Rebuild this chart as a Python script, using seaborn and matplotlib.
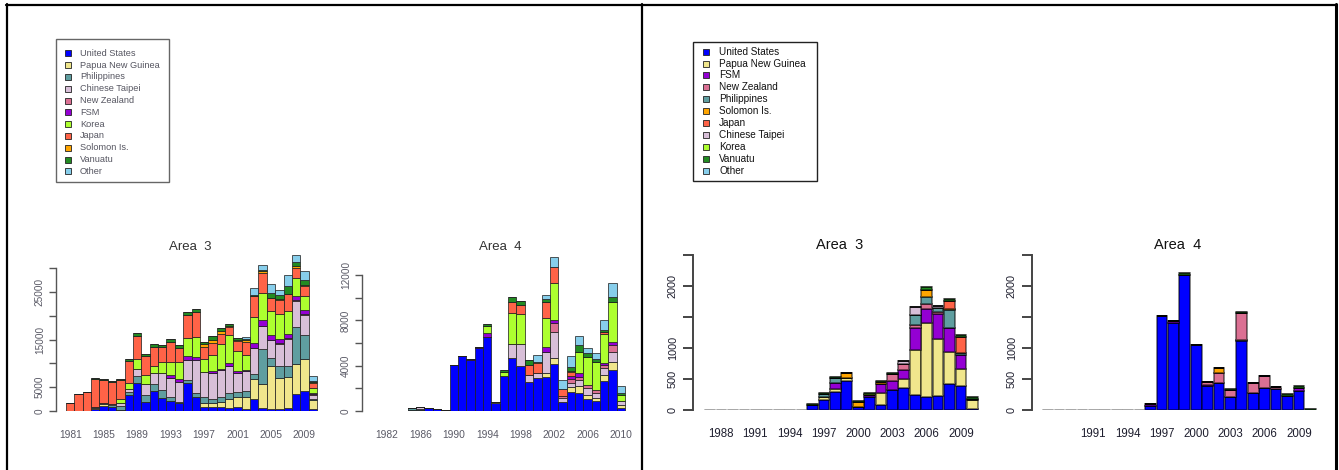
import numpy as np
import pandas as pd
import matplotlib
matplotlib.use("Agg")
import matplotlib.pyplot as plt
import seaborn as sns
from matplotlib.patches import Rectangle
from matplotlib.lines import Line2D

# ---------------- data ----------------
years_left = list(range(1981, 2011))
years_right = list(range(1987, 2011))

countries_left = ["United States", "Papua New Guinea", "Philippines", "Chinese Taipei",
                  "New Zealand", "FSM", "Korea", "Japan", "Solomon Is.", "Vanuatu", "Other"]
countries_right = ["United States", "Papua New Guinea", "FSM", "New Zealand", "Philippines",
                   "Solomon Is.", "Japan", "Chinese Taipei", "Korea", "Vanuatu", "Other"]

colors = {"United States": "#0000FF", "Papua New Guinea": "#F0E68C", "Philippines": "#5F9EA0",
          "Chinese Taipei": "#D8BFD8", "New Zealand": "#DB7093", "FSM": "#9400D3",
          "Korea": "#ADFF2F", "Japan": "#FF6347", "Solomon Is.": "#FFA500",
          "Vanuatu": "#228B22", "Other": "#87CEEB"}

# Left figure, Area 3 (1981-2010)
l3_us  = [0, 0, 0, 500, 1100, 900, 300, 3350, 5900, 1950, 4200, 2800, 2100, 1600, 5800, 3000, 900, 900, 900, 600, 800, 500, 2450, 550, 500, 500, 700, 3500, 4250, 400]
l3_png = [0, 0, 0, 200, 300, 0, 0, 0, 0, 0, 0, 0, 0, 0, 0, 0, 850, 700, 1000, 1900, 2100, 2500, 4200, 5100, 8900, 6350, 6500, 6300, 6750, 1900]
l3_phl = [0, 0, 0, 200, 300, 300, 700, 700, 1400, 1400, 1450, 1600, 750, 300, 700, 700, 1100, 1000, 1000, 1250, 1000, 1200, 1050, 7450, 1800, 2600, 2200, 7750, 4900, 300]
l3_twn = [0, 0, 0, 0, 0, 300, 700, 550, 1600, 2300, 2250, 3500, 4000, 4200, 4300, 7000, 5350, 5400, 5600, 5700, 4100, 4200, 5450, 4650, 3600, 4600, 5800, 5500, 4200, 700]
l3_nzl = [0, 0, 0, 0, 0, 0, 0, 0, 0, 0, 0, 0, 0, 0, 0, 0, 0, 0, 0, 0, 0, 0, 150, 150, 150, 150, 150, 150, 150, 300]
l3_fsm = [0, 0, 0, 0, 0, 0, 0, 0, 0, 0, 0, 0, 700, 700, 700, 700, 0, 350, 300, 700, 300, 300, 1050, 1250, 1050, 850, 700, 900, 850, 200]
l3_kor = [0, 0, 0, 0, 0, 0, 800, 1200, 2100, 1900, 1550, 2450, 2800, 3500, 3800, 4050, 2800, 3300, 5200, 5800, 4300, 3050, 5450, 5700, 4900, 5400, 4900, 3850, 3000, 1000]
l3_jpn = [1600, 3550, 3900, 5800, 4800, 4600, 4000, 4700, 4700, 4000, 4050, 3100, 4200, 2900, 4900, 5350, 2450, 2650, 2200, 1600, 2000, 2650, 4300, 4200, 2800, 2800, 3700, 2100, 2100, 1000]
l3_slb = [0, 0, 0, 0, 0, 0, 0, 0, 0, 0, 0, 0, 0, 0, 0, 0, 550, 550, 500, 300, 300, 400, 0, 300, 0, 300, 0, 300, 300, 200]
l3_vut = [0, 0, 0, 300, 200, 200, 300, 350, 700, 500, 500, 500, 550, 550, 500, 500, 500, 850, 700, 500, 400, 300, 300, 300, 1050, 800, 1500, 900, 900, 350]
l3_oth = [0, 0, 0, 0, 0, 0, 0, 0, 0, 0, 0, 0, 0, 0, 0, 0, 0, 0, 0, 0, 0, 400, 1400, 900, 1900, 1050, 2300, 1550, 1900, 1050]

# Left figure, Area 4 (1981-2010)
l4_us  = [20, 20, 20, 30, 80, 100, 290, 150, 60, 4100, 4880, 4500, 5550, 6550, 750, 3100, 4650, 4000, 2600, 2950, 3030, 4120, 760, 1700, 1620, 1060, 880, 2650, 3620, 240]
l4_png = [0, 0, 0, 0, 0, 0, 0, 0, 0, 0, 0, 0, 0, 0, 70, 0, 0, 0, 0, 0, 300, 530, 0, 440, 590, 350, 300, 530, 740, 300]
l4_phl = [0, 0, 0, 0, 150, 120, 0, 0, 0, 0, 0, 0, 0, 0, 0, 0, 0, 0, 0, 0, 0, 0, 0, 0, 0, 0, 0, 0, 0, 0]
l4_twn = [0, 0, 0, 0, 0, 100, 0, 0, 0, 0, 0, 0, 0, 0, 0, 0, 1230, 1900, 600, 400, 1900, 2350, 350, 300, 530, 590, 380, 590, 880, 300]
l4_nzl = [0, 0, 0, 0, 0, 0, 0, 0, 0, 0, 0, 0, 0, 0, 0, 0, 0, 0, 0, 0, 0, 740, 200, 350, 300, 300, 300, 300, 590, 0]
l4_fsm = [0, 0, 0, 0, 0, 0, 0, 0, 0, 0, 0, 90, 120, 300, 0, 0, 0, 0, 0, 0, 380, 300, 0, 300, 300, 0, 0, 200, 300, 0]
l4_kor = [0, 0, 0, 0, 0, 0, 0, 0, 0, 0, 0, 0, 0, 650, 0, 380, 2740, 2650, 0, 0, 2560, 3230, 0, 0, 1910, 2500, 2500, 2500, 3530, 590]
l4_jpn = [0, 0, 0, 0, 0, 0, 0, 0, 0, 0, 0, 0, 0, 0, 0, 0, 1030, 800, 880, 880, 1470, 1470, 670, 380, 0, 0, 0, 240, 0, 0]
l4_slb = [0, 0, 0, 0, 0, 0, 0, 0, 0, 0, 0, 0, 0, 0, 0, 0, 0, 0, 0, 100, 0, 0, 0, 100, 0, 0, 0, 0, 0, 0]
l4_vut = [0, 0, 0, 0, 0, 0, 0, 0, 0, 0, 0, 0, 0, 150, 0, 120, 380, 380, 380, 0, 200, 0, 0, 350, 590, 300, 200, 100, 440, 150]
l4_oth = [0, 0, 0, 0, 0, 0, 0, 0, 0, 0, 0, 0, 0, 0, 0, 0, 0, 0, 0, 600, 380, 880, 740, 910, 740, 440, 530, 940, 1180, 590]

# Right figure, Area 3 (1987-2010)
r3_us  = [0, 0, 0, 0, 0, 0, 0, 0, 0, 80, 160, 295, 475, 55, 215, 80, 325, 350, 240, 215, 230, 415, 390, 10]
r3_png = [0, 0, 0, 0, 0, 0, 0, 0, 0, 0, 55, 40, 35, 0, 0, 200, 0, 145, 725, 1195, 915, 525, 270, 150]
r3_fsm = [0, 0, 0, 0, 0, 0, 0, 0, 0, 0, 0, 95, 0, 0, 30, 135, 145, 150, 365, 215, 405, 375, 230, 0]
r3_nzl = [0, 0, 0, 0, 0, 0, 0, 0, 0, 0, 0, 0, 0, 0, 0, 0, 105, 90, 40, 80, 25, 0, 0, 0]
r3_phl = [0, 0, 0, 0, 0, 0, 0, 0, 0, 0, 40, 80, 0, 0, 0, 0, 0, 0, 170, 115, 65, 295, 25, 25]
r3_slb = [0, 0, 0, 0, 0, 0, 0, 0, 0, 0, 0, 0, 90, 75, 0, 30, 0, 0, 0, 110, 0, 25, 0, 0]
r3_jpn = [0, 0, 0, 0, 0, 0, 0, 0, 0, 0, 0, 0, 0, 0, 0, 0, 0, 0, 0, 0, 0, 125, 260, 0]
r3_twn = [0, 0, 0, 0, 0, 0, 0, 0, 0, 0, 0, 0, 0, 0, 0, 0, 0, 55, 125, 0, 45, 0, 0, 0]
r3_kor = [0, 0, 0, 0, 0, 0, 0, 0, 0, 0, 0, 0, 0, 0, 20, 0, 0, 0, 0, 0, 0, 0, 0, 0]
r3_vut = [0, 0, 0, 0, 0, 0, 0, 0, 0, 10, 15, 25, 0, 15, 15, 15, 15, 0, 0, 55, 0, 25, 35, 30]
r3_oth = [0] * 24

# Right figure, Area 4 (1987-2010)
r4_us  = [0, 0, 0, 0, 0, 0, 0, 0, 0, 60, 1515, 1405, 2180, 1045, 390, 430, 205, 1110, 280, 350, 335, 225, 310, 0]
r4_png = [0, 0, 0, 0, 0, 0, 0, 0, 0, 0, 0, 0, 0, 0, 0, 0, 0, 25, 0, 0, 0, 0, 0, 0]
r4_fsm = [0, 0, 0, 0, 0, 0, 0, 0, 0, 30, 0, 35, 0, 0, 15, 0, 0, 0, 0, 0, 0, 0, 40, 0]
r4_nzl = [0, 0, 0, 0, 0, 0, 0, 0, 0, 0, 0, 0, 0, 0, 50, 160, 120, 430, 160, 200, 40, 0, 0, 0]
r4_phl = [0] * 24
r4_slb = [0, 0, 0, 0, 0, 0, 0, 0, 0, 0, 0, 0, 0, 0, 0, 80, 0, 0, 0, 0, 0, 0, 0, 0]
r4_jpn = [0] * 24
r4_twn = [0] * 24
r4_kor = [0] * 24
r4_vut = [0, 0, 0, 0, 0, 0, 0, 0, 0, 0, 0, 0, 25, 0, 0, 0, 10, 20, 0, 0, 0, 35, 45, 15]
r4_oth = [0] * 24

left_xticks_a3 = [1981, 1985, 1989, 1993, 1997, 2001, 2005, 2009]
left_xticks_a4 = [1982, 1986, 1990, 1994, 1998, 2002, 2006, 2010]
right_xticks_a3 = [1988, 1991, 1994, 1997, 2000, 2003, 2006, 2009]
right_xticks_a4 = [1991, 1994, 1997, 2000, 2003, 2006, 2009]

# ---------------- style ----------------
sns.set_style("ticks")
plt.rcParams["font.family"] = ["Liberation Sans", "DejaVu Sans"]

W, H = 1339, 470
fig = plt.figure(figsize=(W / 100, H / 100), dpi=100)
fig.patch.set_facecolor("white")


def fx(x):
    return x / W


def fy(y):
    return 1 - y / H


def stacked(ax, years, series, order, edge, lw, shrink, zero_edge):
    rows = []
    for name in order:
        for yr, v in zip(years, series[name]):
            rows.append((yr, name, v))
    df = pd.DataFrame(rows, columns=["year", "country", "catch"])
    sns.histplot(data=df, x="year", weights="catch", hue="country",
                 hue_order=order[::-1], multiple="stack", discrete=True,
                 shrink=shrink, palette=colors, alpha=1, edgecolor=edge,
                 linewidth=lw, legend=False, ax=ax)
    # years with no catch at all: R draws only a grey baseline dash there
    totals = df.groupby("year")["catch"].sum()
    empty = set(totals[totals == 0].index)
    if zero_edge is not None:
        for p in ax.patches:
            centre = p.get_x() + p.get_width() / 2
            if round(centre) in empty:
                p.set_edgecolor(zero_edge)
                p.set_linewidth(lw * 1.5)


def panel(x_axis, x_right, y_zero, ppu, ytop, first_year, c0, pyr, years, series, order,
          edge, lw, shrink, zero_edge, yticks, ylabels, xticks, tcol, fs_x, fs_y, spine_col,
          spine_lw, ticklen, ypad, xpad, title, title_xy, title_fs, title_col):
    ax = fig.add_axes([fx(x_axis), fy(y_zero), (x_right - x_axis) / W, ytop * ppu / H])
    stacked(ax, years, series, order, edge, lw, shrink, zero_edge)
    xl = first_year - (c0 - x_axis) / pyr
    xr = xl + (x_right - x_axis) / pyr
    ax.set_xlim(xl, xr)
    ax.set_ylim(0, ytop)
    sns.despine(ax=ax, bottom=True)
    ax.spines["left"].set_bounds(yticks[0], yticks[-1])
    ax.spines["left"].set_color(spine_col)
    ax.spines["left"].set_linewidth(spine_lw)
    ax.set_yticks(yticks)
    ax.set_yticklabels(ylabels, rotation=90, va="center")
    ax.set_xticks(xticks)
    ax.set_xticklabels([str(t) for t in xticks])
    ax.tick_params(axis="y", length=ticklen, width=spine_lw, color=spine_col,
                   labelsize=fs_y, labelcolor=tcol, pad=ypad)
    ax.tick_params(axis="x", length=0, labelsize=fs_x, labelcolor=tcol, pad=xpad)
    ax.set_xlabel("")
    ax.set_ylabel("")
    ax.patch.set_alpha(0)
    fig.text(fx(title_xy[0]), fy(title_xy[1]), title, ha="center", va="center",
             fontsize=title_fs, color=title_col)
    return ax


left_a3 = dict(zip(countries_left, [l3_us, l3_png, l3_phl, l3_twn, l3_nzl, l3_fsm, l3_kor, l3_jpn, l3_slb, l3_vut, l3_oth]))
left_a4 = dict(zip(countries_left, [l4_us, l4_png, l4_phl, l4_twn, l4_nzl, l4_fsm, l4_kor, l4_jpn, l4_slb, l4_vut, l4_oth]))
right_a3 = dict(zip(countries_right, [r3_us, r3_png, r3_fsm, r3_nzl, r3_phl, r3_slb, r3_jpn, r3_twn, r3_kor, r3_vut, r3_oth]))
right_a4 = dict(zip(countries_right, [r4_us, r4_png, r4_fsm, r4_nzl, r4_phl, r4_slb, r4_jpn, r4_twn, r4_kor, r4_vut, r4_oth]))

ledge = (0.12, 0.12, 0.12, 0.75)
redge = (0, 0, 0, 0.5)
rzero = (0.35, 0.35, 0.35, 0.07)
lcol = "#5a5a66"
rcol = "#1e1e2e"

# Left figure
panel(56, 322, 411, 143 / 30000, 33500, 1981, 70.2, 8.367, years_left, left_a3, countries_left,
      ledge, 0.7, 1.0, None, list(range(0, 30001, 5000)), ["0", "5000", "", "15000", "", "25000", ""],
      left_xticks_a3, lcol, 7.4, 7.2, "#555555", 1.0, 5, 3, 14, "Area  3", (190, 247), 9.5, "#333333")
panel(362, 632, 411, 136 / 12000, 14000, 1981, 378.4, 8.367, years_left, left_a4, countries_left,
      ledge, 0.7, 1.0, None, list(range(0, 12001, 2000)), ["0", "", "4000", "", "8000", "", "12000"],
      left_xticks_a4, lcol, 7.4, 7.2, "#555555", 1.0, 5, 3, 14, "Area  4", (500, 247), 9.5, "#333333")

# Right figure
panel(693, 986, 410, 124 / 2000, 2600, 1987, 709.7, 11.42, years_right, right_a3, countries_right,
      redge, 1.3, 0.94, rzero, list(range(0, 2501, 500)), ["0", "500", "1000", "", "2000", ""],
      right_xticks_a3, rcol, 8.3, 7.8, "#444444", 1.4, 7, 4, 13, "Area  3", (840, 245), 10.5, "#111111")
panel(1032, 1326, 410, 124 / 2000, 2600, 1987, 1047.7, 11.42, years_right, right_a4, countries_right,
      redge, 1.3, 0.94, rzero, list(range(0, 2501, 500)), ["0", "500", "1000", "", "2000", ""],
      right_xticks_a4, rcol, 8.3, 7.8, "#444444", 1.4, 7, 4, 13, "Area  4", (1178, 245), 10.5, "#111111")


# ---------------- legends ----------------
def legend(box, order, sq_x, sq, first_y, step, text_x, fs, tcol, box_col):
    x0, y0, x1, y1 = box
    fig.add_artist(Rectangle((fx(x0), fy(y1)), (x1 - x0) / W, (y1 - y0) / H,
                             transform=fig.transFigure, facecolor="white",
                             edgecolor=box_col, linewidth=1.0))
    for i, name in enumerate(order):
        yc = first_y + i * step
        fig.add_artist(Rectangle((fx(sq_x), fy(yc + sq / 2)), sq / W, sq / H,
                                 transform=fig.transFigure, facecolor=colors[name],
                                 edgecolor="#222222", linewidth=0.6))
        fig.text(fx(text_x), fy(yc), name, ha="left", va="center", fontsize=fs, color=tcol)


legend((56, 39, 169, 182), countries_left, 65, 6, 53.3, 11.8, 80, 6.6, "#555560", "#666666")
legend((693, 42, 817, 181), countries_right, 703, 6, 51.7, 11.9, 719, 7.2, "#111111", "#222222")

# ---------------- frame lines ----------------
for (xa, ya, xb, yb, w) in [(6, 4.5, 1337, 4.5, 1.6), (7, 4, 7, 470, 1.6),
                            (642, 4, 642, 470, 1.6), (1336, 4, 1336, 470, 2.2)]:
    fig.add_artist(Line2D([fx(xa), fx(xb)], [fy(ya), fy(yb)], color="black",
                          linewidth=w, transform=fig.transFigure))

fig.savefig("out.png", dpi=100)
